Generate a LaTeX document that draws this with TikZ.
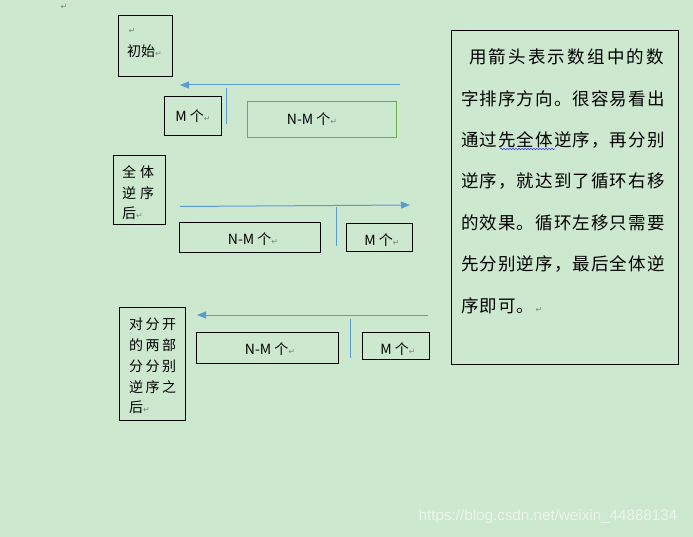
\documentclass[tikz,border=0pt]{standalone}
\usepackage{fontspec}
\setmainfont{Noto Sans CJK SC}
\newfontfamily\markfont{DejaVu Sans}
\newfontfamily\urlfont{Liberation Sans}
\usetikzlibrary{arrows.meta,decorations.pathmorphing}
\definecolor{bg}{RGB}{204,232,207}
\definecolor{arrowblue}{RGB}{91,155,213}
\definecolor{boxgreen}{RGB}{112,173,71}
\definecolor{pmark}{RGB}{130,130,130}
\definecolor{wm}{RGB}{236,245,237}
\makeatletter
\newcommand\cjkrow[2]{\@tfor\cjkx:=#2\do{\makebox[#1][l]{\cjkx}}}
\makeatother
\newcommand\retmark{{\markfont\color{pmark}\fontsize{8}{8}\selectfont ↵}}
\tikzset{
  box/.style={draw=black, line width=0.9pt, inner sep=0pt},
  gbox/.style={draw=boxgreen, line width=0.9pt, inner sep=0pt},
  lbl/.style={inner sep=0pt, text=black, font=\fontsize{14}{14}\selectfont},
  note/.style={inner sep=0pt, anchor=west, text=black, font=\fontsize{17.5}{17.5}\selectfont},
  arr/.style={draw=arrowblue, line width=1pt, -{Triangle[length=9pt,width=7pt]}},
  tickline/.style={draw=arrowblue, line width=1pt}
}
\begin{document}
\begin{tikzpicture}[x=1pt,y=-1pt]
\fill[bg] (0,0) rectangle (693,537);
\useasboundingbox (0,0) rectangle (693,537);

\node[inner sep=0pt] (m0) at (64,7) {\retmark};

% boxes
\node[box, minimum width=54pt, minimum height=61pt] (b0) at (145,45.5) {};
\node[box, minimum width=57pt, minimum height=39pt] (m1) at (192.5,115.5) {};
\node[gbox, minimum width=149pt, minimum height=36pt] (nm1) at (321.5,119) {};
\node[box, minimum width=52pt, minimum height=69pt] (b1) at (139,189.5) {};
\node[box, minimum width=141pt, minimum height=30pt] (nm2) at (249.5,237) {};
\node[box, minimum width=66pt, minimum height=28pt] (m2) at (379,237) {};
\node[box, minimum width=66pt, minimum height=113pt] (b2) at (152,363.5) {};
\node[box, minimum width=142pt, minimum height=31pt] (nm3) at (267,347.5) {};
\node[box, minimum width=67pt, minimum height=27pt] (m3) at (395.5,345.5) {};
\node[box, minimum width=227pt, minimum height=334pt] (nt) at (564.5,197) {};

% box texts
\node[lbl] (b0a) at (132,31) {\retmark};
\node[lbl, anchor=west] (b0b) at (127,51) {初始\retmark};
\node[lbl] (m1t) at (193,116) {M 个\retmark};
\node[lbl] (nm1t) at (312,119) {N-M 个\retmark};

\node[lbl, anchor=west] (b1a) at (122,172) {\cjkrow{18pt}{全体}};
\node[lbl, anchor=west] (b1b) at (122,193) {\cjkrow{18pt}{逆序}};
\node[lbl, anchor=west] (b1c) at (122,213) {后\retmark};
\node[lbl] (nm2t) at (253,239) {N-M 个\retmark};
\node[lbl] (m2t) at (382,240) {M 个\retmark};

\node[lbl, anchor=west] (b2a) at (129,324) {\cjkrow{16.5pt}{对分开}};
\node[lbl, anchor=west] (b2b) at (129,345) {\cjkrow{16.5pt}{的两部}};
\node[lbl, anchor=west] (b2c) at (129,366) {\cjkrow{16.5pt}{分分别}};
\node[lbl, anchor=west] (b2d) at (129,387) {\cjkrow{16.5pt}{逆序之}};
\node[lbl, anchor=west] (b2e) at (129,407) {后\retmark};
\node[lbl] (nm3t) at (270,349) {N-M 个\retmark};
\node[lbl] (m3t) at (398,349) {M 个\retmark};

% note text
\node[note] (n1) at (469,57) {\cjkrow{19.7pt}{用箭头表示数组中的数}};
\node[note] (n2) at (461,99) {\cjkrow{18.6pt}{字排序方向。很容易看出}};
\node[note] (n3) at (461,140) {\cjkrow{18.6pt}{通过先全体逆序，再分别}};
\node[note] (n4) at (461,181) {\cjkrow{18.6pt}{逆序，就达到了循环右移}};
\node[note] (n5) at (461,223) {\cjkrow{18.6pt}{的效果。循环左移只需要}};
\node[note] (n6) at (461,264) {\cjkrow{18.6pt}{先分别逆序，最后全体逆}};
\node[note] (n7) at (461,306) {\cjkrow{18.6pt}{序即可。}\retmark};
\draw[blue!80, line width=0.5pt, decorate, decoration={snake, amplitude=0.7pt, segment length=3pt}] (500,149) -- (555,149);

% arrows
\coordinate (a1s) at (400,85);  \coordinate (a1e) at (180,85);
\coordinate (t1s) at (226,88);  \coordinate (t1e) at (226,124);
\coordinate (a2s) at (180,206.5); \coordinate (a2e) at (410,205);
\coordinate (t2s) at (336,207); \coordinate (t2e) at (336,246);
\coordinate (a3s) at (428,315); \coordinate (a3e) at (197,315);
\coordinate (t3s) at (350,319); \coordinate (t3e) at (350,358);
\draw[arr] (a1s) -- (a1e);
\draw[tickline] (t1s) -- (t1e);
\draw[arr] (a2s) -- (a2e);
\draw[tickline] (t2s) -- (t2e);
\draw[arr] (a3s) -- (a3e);
\draw[tickline] (t3s) -- (t3e);

% watermark
\node[inner sep=0pt, text=wm, font=\urlfont\fontsize{15.2}{15.2}\selectfont] (wmk) at (548,517) {https://blog.csdn.net/weixin\_44888134};
\end{tikzpicture}
\end{document}
